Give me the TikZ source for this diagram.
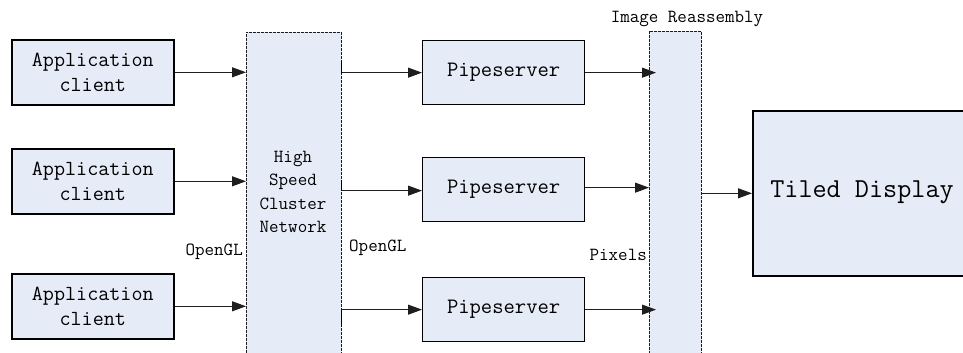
\documentclass[tikz,border=0pt]{standalone}
\usepackage{fontspec}
\usetikzlibrary{arrows.meta}
\definecolor{boxfill}{RGB}{230,236,247}
\definecolor{linegray}{RGB}{30,30,30}
\tikzset{
  solidbox/.style={draw=black, fill=boxfill, line width=1.6pt, inner sep=0pt,
    font=\ttfamily\fontsize{21.5}{25}\selectfont, align=center},
  psbox/.style={draw=black, fill=boxfill, line width=1.3pt, inner sep=0pt,
    minimum width=162pt, minimum height=64pt,
    font=\ttfamily\fontsize{22}{26}\selectfont},
  column/.style={draw=linegray, fill=boxfill, line width=0.8pt,
    dash pattern=on 3pt off 1pt, inner sep=0pt},
  lbl/.style={font=\ttfamily\fontsize{18.5}{23.5}\selectfont, inner sep=0pt, align=center},
  flow/.style={draw=linegray, line width=1pt, -{Triangle[length=14pt,width=10pt]}},
  tick/.style={draw=black, line width=1.2pt}
}
\begin{document}
\begin{tikzpicture}[x=1pt,y=-1pt]
\useasboundingbox (0,0) rectangle (963,353);
\clip (0,0) rectangle (963,353);

% interconnect and reassembly columns (run off the bottom edge)
\node[column, minimum width=95pt, minimum height=360pt, anchor=north west] (net) at (246,32) {};
\node[column, minimum width=52pt, minimum height=360pt, anchor=north west] (re) at (649,31) {};
\node[lbl] (netlabel) at (293,192) {High\\Speed\\Cluster\\Network};
\node[lbl] (relabel) at (687,19) {Image Reassembly};

% application clients
\node[solidbox, minimum width=162pt, minimum height=65pt, anchor=north west] (a1) at (11,39) {Application\\client};
\node[solidbox, minimum width=162pt, minimum height=65pt, anchor=north west] (a2) at (11,148) {Application\\client};
\node[solidbox, minimum width=162pt, minimum height=65pt, anchor=north west] (a3) at (11,273) {Application\\client};

% pipeservers
\node[psbox, anchor=north west] (p1) at (422,40) {Pipeserver};
\node[psbox, anchor=north west] (p2) at (422,157) {Pipeserver};
\node[psbox, anchor=north west] (p3) at (422,277) {Pipeserver};

% display wall
\node[solidbox, minimum width=220pt, minimum height=165pt, anchor=north west] (td) at (752,110) {};
\node[lbl, font=\ttfamily\fontsize{27.4}{32}\selectfont] (tdlabel) at (862,192) {Tiled Display};

% labels on the links
\node[lbl, anchor=east] (gl1) at (243,252) {OpenGL};
\node[lbl, anchor=west] (gl2) at (349,248) {OpenGL};
\node[lbl, anchor=east] (px) at (647,255) {Pixels};

% clients to interconnect
\draw[flow] (a1.east) -- (a1.east -| net.west);
\draw[flow] (a2.east) -- (a2.east -| net.west);
\draw[flow] (a3.east) -- (a3.east -| net.west);

% interconnect to pipeservers
\coordinate (o1) at (p1.west -| net.east);
\coordinate (o2) at ([yshift=-1pt]p2.west -| net.east);
\coordinate (o3) at (p3.west -| net.east);
\draw[flow] (o1) -- (p1.west);
\draw[flow] (o2) -- ([yshift=-1pt]p2.west);
\draw[flow] (o3) -- (p3.west);
\draw[tick] (o1) -- ++(0,-12);
\draw[tick] (o2) -- ++(0,-11);
\draw[tick] (o3) -- ++(0,17);

% pipeservers to reassembly
\draw[flow] (p1.east) -- ([xshift=7pt]p1.east -| re.west);
\draw[flow] ([yshift=2pt]p2.east) -- ([yshift=2pt]p2.east -| re.west);
\draw[flow] (p3.east) -- ([xshift=7pt]p3.east -| re.west);

% reassembly to display
\draw[flow] (re.east |- td.west) -- (td.west);
\end{tikzpicture}
\end{document}
